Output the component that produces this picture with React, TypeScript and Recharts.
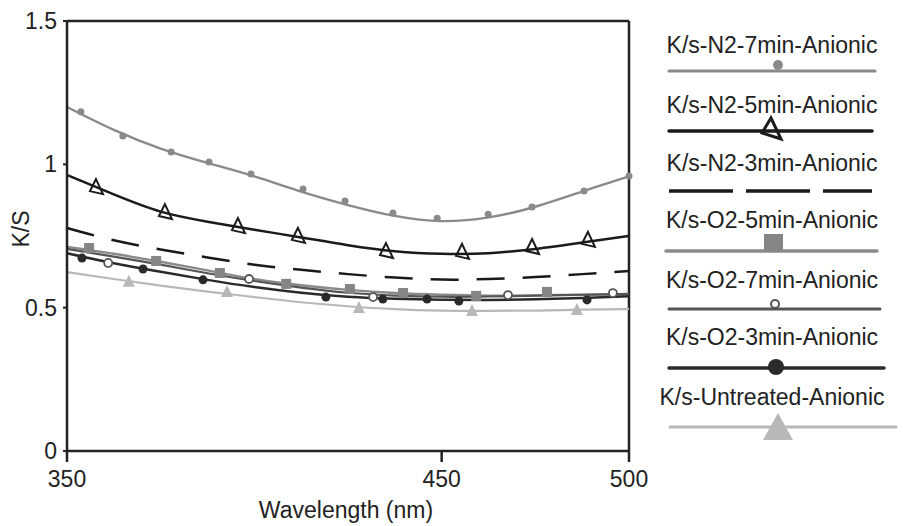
import React from 'react';
import {
  ComposedChart,
  Line,
  Scatter,
  XAxis,
  YAxis,
  ReferenceLine,
} from 'recharts';

// trendline sample points (nm) shared by all series
const curveNm = [350, 362.5, 375, 387.5, 400, 412.5, 425, 437.5, 450, 462.5, 475, 487.5, 500];

// trendline values
const n2_7Curve = [1.2, 1.12, 1.055, 1.005, 0.958, 0.905, 0.858, 0.82, 0.802, 0.815, 0.852, 0.905, 0.958];
const n2_5Curve = [0.963, 0.895, 0.835, 0.8, 0.772, 0.745, 0.718, 0.697, 0.688, 0.69, 0.705, 0.727, 0.75];
const n2_3Curve = [0.778, 0.735, 0.703, 0.675, 0.65, 0.632, 0.617, 0.605, 0.598, 0.6, 0.607, 0.617, 0.628];
const o2_5Curve = [0.712, 0.688, 0.66, 0.63, 0.6, 0.578, 0.562, 0.551, 0.545, 0.542, 0.543, 0.545, 0.547];
const o2_7Curve = [0.705, 0.678, 0.65, 0.62, 0.593, 0.57, 0.552, 0.542, 0.538, 0.539, 0.542, 0.545, 0.548];
const o2_3Curve = [0.69, 0.655, 0.625, 0.597, 0.572, 0.552, 0.538, 0.531, 0.528, 0.527, 0.529, 0.534, 0.54];
const untreatedCurve = [0.624, 0.6, 0.577, 0.556, 0.537, 0.519, 0.505, 0.495, 0.49, 0.489, 0.49, 0.493, 0.495];

// measured points (markers)
const n2_7Nm = [353.7, 364.9, 377.8, 387.9, 399.1, 413.0, 424.2, 437.0, 448.8, 462.4, 474.1, 488.0, 500];
const n2_7Val = [1.183, 1.099, 1.043, 1.008, 0.966, 0.914, 0.872, 0.83, 0.812, 0.826, 0.851, 0.907, 0.959];
const n2_5Nm = [358.0, 376.4, 395.9, 411.9, 435.4, 455.7, 474.4, 489.3];
const n2_5Val = [0.917, 0.83, 0.781, 0.747, 0.694, 0.691, 0.708, 0.733];
const o2_5Nm = [355.9, 373.8, 390.8, 408.5, 425.5, 439.7, 459.2, 478.1];
const o2_5Val = [0.708, 0.663, 0.621, 0.583, 0.565, 0.551, 0.541, 0.555];
const o2_7Nm = [361.0, 398.6, 431.7, 467.7, 495.7];
const o2_7Val = [0.656, 0.6, 0.537, 0.544, 0.551];
const o2_3Nm = [354.0, 370.3, 386.3, 419.1, 434.3, 446.1, 454.6, 488.8];
const o2_3Val = [0.673, 0.635, 0.597, 0.537, 0.53, 0.53, 0.523, 0.527];
const untreatedNm = [366.5, 392.7, 427.9, 458.1, 486.1];
const untreatedVal = [0.59, 0.555, 0.499, 0.488, 0.492];

const xTicks = [350, 450, 500];
const yTicks = [0, 0.5, 1, 1.5];

const seriesNames = [
  'K/s-N2-7min-Anionic',
  'K/s-N2-5min-Anionic',
  'K/s-N2-3min-Anionic',
  'K/s-O2-5min-Anionic',
  'K/s-O2-7min-Anionic',
  'K/s-O2-3min-Anionic',
  'K/s-Untreated-Anionic',
];

const FONT = '"Liberation Sans", Arial, sans-serif';
const INK = '#222';

const toPts = (xs: number[], ys: number[]) => xs.map((x, i) => ({ x, y: ys[i] }));

const SmallDot = ({ cx, cy }: any) => <circle cx={cx} cy={cy} r={3.5} fill="#8a8a8a" />;
const OpenTri = ({ cx, cy }: any) => (
  <path
    d={`M${cx - 1},${cy - 9} L${cx + 6},${cy + 6} L${cx - 7},${cy + 3} Z`}
    fill="none"
    stroke="#1a1a1a"
    strokeWidth={2}
  />
);
const Square = ({ cx, cy }: any) => <rect x={cx - 5} y={cy - 5} width={10} height={10} fill="#858585" />;
const OpenCircle = ({ cx, cy }: any) => (
  <circle cx={cx} cy={cy} r={4} fill="#fff" stroke="#555" strokeWidth={1.8} />
);
const FilledCircle = ({ cx, cy }: any) => <circle cx={cx} cy={cy} r={4.5} fill="#2a2a2a" />;
const LightTri = ({ cx, cy }: any) => (
  <path d={`M${cx},${cy - 7} L${cx + 6},${cy + 5} L${cx - 6},${cy + 5} Z`} fill="#b8b8b8" />
);

function ChartLegend() {
  const rows = [45, 105, 163, 220, 280, 337, 397];
  const lines = [71, 131, 191, 251, 309, 368, 427];
  return (
    <svg
      width={263}
      height={470}
      style={{ position: 'absolute', left: 640, top: 0 }}
      fontFamily={FONT}
    >
      {seriesNames.map((name, i) => (
        <text key={name} x={132} y={rows[i]} fontSize={23} fill={INK} textAnchor="middle" dominantBaseline="central">
          {name}
        </text>
      ))}
      <line x1={29} x2={235} y1={lines[0]} y2={lines[0]} stroke="#8a8a8a" strokeWidth={3} strokeLinecap="round" />
      <circle cx={138} cy={lines[0] - 6} r={5} fill="#8a8a8a" />
      <line x1={29} x2={232} y1={lines[1]} y2={lines[1]} stroke="#1a1a1a" strokeWidth={3.5} strokeLinecap="round" />
      <path d={`M131,${lines[1] - 13} L141,${lines[1] + 8} L122,${lines[1] + 2} Z`} fill="none" stroke="#1a1a1a" strokeWidth={3} />
      <line x1={29} x2={232} y1={lines[2]} y2={lines[2]} stroke="#1a1a1a" strokeWidth={3.5} strokeDasharray="64 13" />
      <line x1={26} x2={237} y1={lines[3]} y2={lines[3]} stroke="#8a8a8a" strokeWidth={3.5} strokeLinecap="round" />
      <rect x={124} y={lines[3] - 17} width={19} height={17} fill="#858585" />
      <line x1={29} x2={240} y1={lines[4]} y2={lines[4]} stroke="#555" strokeWidth={3} strokeLinecap="round" />
      <circle cx={135} cy={lines[4] - 5} r={4} fill="#fff" stroke="#555" strokeWidth={2} />
      <line x1={29} x2={244} y1={lines[5]} y2={lines[5]} stroke="#2a2a2a" strokeWidth={3.5} strokeLinecap="round" />
      <circle cx={136} cy={lines[5] - 1} r={8} fill="#2a2a2a" />
      <line x1={30} x2={256} y1={lines[6]} y2={lines[6]} stroke="#b8b8b8" strokeWidth={3} strokeLinecap="round" />
      <path d={`M138,${lines[6] - 14} L153,${lines[6] + 13} L123,${lines[6] + 13} Z`} fill="#b8b8b8" />
    </svg>
  );
}

export default function App() {
  const curves = [
    { key: 'n2_7', d: toPts(curveNm, n2_7Curve), stroke: '#8a8a8a', w: 2.4 },
    { key: 'n2_5', d: toPts(curveNm, n2_5Curve), stroke: '#1a1a1a', w: 2.5 },
    { key: 'n2_3', d: toPts(curveNm, n2_3Curve), stroke: '#1a1a1a', w: 2.5, dash: '28 18' },
    { key: 'o2_5', d: toPts(curveNm, o2_5Curve), stroke: '#8a8a8a', w: 2.4 },
    { key: 'o2_7', d: toPts(curveNm, o2_7Curve), stroke: '#555', w: 2.2 },
    { key: 'o2_3', d: toPts(curveNm, o2_3Curve), stroke: '#2a2a2a', w: 2.5 },
    { key: 'untr', d: toPts(curveNm, untreatedCurve), stroke: '#b8b8b8', w: 2.2 },
  ];
  const marks = [
    { key: 'm_n2_7', d: toPts(n2_7Nm, n2_7Val), shape: SmallDot },
    { key: 'm_n2_5', d: toPts(n2_5Nm, n2_5Val), shape: OpenTri },
    { key: 'm_o2_5', d: toPts(o2_5Nm, o2_5Val), shape: Square },
    { key: 'm_o2_7', d: toPts(o2_7Nm, o2_7Val), shape: OpenCircle },
    { key: 'm_o2_3', d: toPts(o2_3Nm, o2_3Val), shape: FilledCircle },
    { key: 'm_untr', d: toPts(untreatedNm, untreatedVal), shape: LightTri },
  ];
  const tick = { fill: INK, fontSize: 23, fontFamily: FONT };

  return (
    <div style={{ position: 'absolute', left: 0, top: 0, width: 903, height: 526, background: '#fff' }}>
      <ComposedChart width={903} height={526} margin={{ top: 21, right: 274, bottom: 0, left: 0 }}>
        <XAxis
          dataKey="x"
          type="number"
          domain={[350, 500]}
          ticks={xTicks}
          allowDuplicatedCategory={false}
          height={75}
          tick={tick}
          tickSize={11}
          tickMargin={9}
          axisLine={{ stroke: '#222', strokeWidth: 2.5 }}
          tickLine={{ stroke: '#222', strokeWidth: 2.5 }}
          label={{ value: 'Wavelength (nm)', position: 'center', dx: -2, dy: 21, fill: INK, fontSize: 23, fontFamily: FONT }}
        />
        <YAxis
          dataKey="y"
          type="number"
          domain={[0, 1.5]}
          ticks={yTicks}
          width={67}
          tick={tick}
          tickSize={4}
          tickMargin={6}
          axisLine={{ stroke: '#222', strokeWidth: 2.5 }}
          tickLine={{ stroke: '#222', strokeWidth: 2 }}
          label={{ value: 'K/S', angle: -90, position: 'center', dx: -13, dy: -7, fill: INK, fontSize: 23, fontFamily: FONT }}
        />
        <ReferenceLine y={1.5} stroke="#222" strokeWidth={2.5} />
        <ReferenceLine x={500} stroke="#222" strokeWidth={2.5} />
        {curves.map((c) => (
          <Line
            key={c.key}
            data={c.d}
            dataKey="y"
            type="natural"
            stroke={c.stroke}
            strokeWidth={c.w}
            strokeDasharray={c.dash}
            dot={false}
            activeDot={false}
            isAnimationActive={false}
          />
        ))}
        {marks.map((m) => (
          <Scatter key={m.key} data={m.d} dataKey="y" shape={m.shape} isAnimationActive={false} />
        ))}
      </ComposedChart>
      <ChartLegend />
    </div>
  );
}
